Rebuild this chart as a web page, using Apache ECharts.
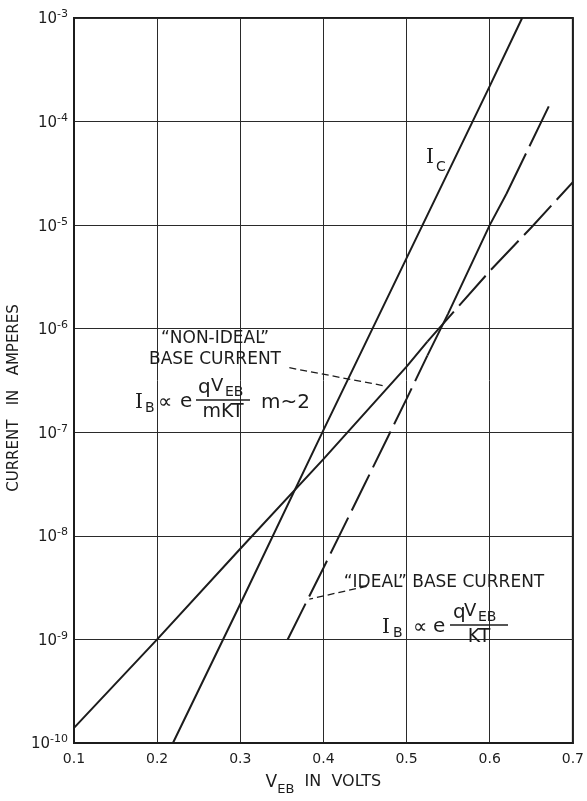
<!DOCTYPE html>
<html>
<head>
<meta charset="utf-8">
<script src="https://cdn.jsdelivr.net/npm/echarts@6/dist/echarts.min.js"></script>
<style>
  html, body { margin: 0; padding: 0; background: #fff; }
  #chart { width: 587px; height: 801px; }
</style>
</head>
<body>
<div id="chart"></div>
<script>
// Emitter-base voltage (V) against current (A)
const collectorVolts = [0.219, 0.30, 0.40, 0.50, 0.60, 0.639];
const collectorAmps  = [1e-10, 2.2e-9, 1.05e-7, 4.8e-6, 2.2e-4, 1e-3];

const nonIdealVolts = [0.10, 0.20, 0.30, 0.40, 0.50, 0.525, 0.60, 0.65, 0.70];
const nonIdealAmps  = [1.4e-10, 1.0e-9, 7.5e-9, 5.5e-8, 4.3e-7, 7.5e-7, 3.6e-6, 9.5e-6, 2.6e-5];

const idealVolts = [0.357, 0.40, 0.45, 0.50, 0.525, 0.55, 0.60, 0.62, 0.671];
const idealAmps  = [1.0e-9, 4.9e-9, 3.2e-8, 2.1e-7, 5.5e-7, 1.4e-6, 1.0e-5, 2.0e-5, 1.4e-4];

// where each drawn stroke switches between solid and dashed
const nonIdealDashFrom = 0.525;
const idealSolidFrom = 0.525;
const idealSolidTo = 0.62;

// leader arrows: [from volts, from amps, to volts, to amps]
const nonIdealLeader = [0.359, 4.2e-7, 0.474, 2.8e-7];
const idealLeader = [0.452, 3.26e-9, 0.383, 2.45e-9];

const voltMin = 0.1, voltMax = 0.7, voltStep = 0.1;
const ampMin = 1e-10, ampMax = 1e-3;

const INK = '#1c1c1c';
const FONT = '"DejaVu Sans", sans-serif';
const SERIF = '"DejaVu Serif", serif';

function segment(xs, ys, lo, hi) {
  const out = [];
  xs.forEach((x, i) => { if (x >= lo - 1e-9 && x <= hi + 1e-9) out.push([x, ys[i]]); });
  return out;
}

const solid = { color: INK, width: 2, type: 'solid' };
const dashed = { color: INK, width: 2, type: [40, 8] };
const dashedTop = { color: INK, width: 2, type: [45, 8] };

function curve(name, data, style, extra) {
  return Object.assign({
    name, type: 'line', data, symbol: 'none', showSymbol: false, silent: true,
    lineStyle: style, z: 3
  }, extra || {});
}

function leader(c) {
  return {
    silent: true, symbol: ['none', 'arrow'], symbolSize: [0, 9],
    lineStyle: { color: INK, width: 1.3, type: [7, 4] },
    label: { show: false },
    data: [[{ coord: [c[0], c[1]] }, { coord: [c[2], c[3]] }]]
  };
}

function txt(str, x, y, size, opts) {
  return {
    type: 'text', x, y, z: 10, silent: true,
    style: Object.assign({
      text: str, fill: INK, font: size + 'px ' + FONT,
      textAlign: 'left', textVerticalAlign: 'middle'
    }, opts || {})
  };
}

function bar(x1, x2, y) {
  return { type: 'line', z: 10, silent: true,
    shape: { x1, y1: y, x2, y2: y }, style: { stroke: INK, lineWidth: 1.5 } };
}

// I_B ∝ e^(qV_EB / denom); g holds the horizontal spacing of the pieces
function formula(x, y, denom, g) {
  const n = x + g.num;
  return [
    txt('I', x, y, 20, { font: '20px ' + SERIF }),
    txt('B', x + g.b, y + 5, 14),
    txt('\u221D', x + g.prop, y, 20),
    txt('e', x + g.e, y - 1, 20),
    txt('q', n, y - 15, 20),
    txt('V', n + g.v, y - 17, 18),
    txt('EB', n + g.v + 14, y - 11, 14),
    bar(x + g.bar[0], x + g.bar[1], y - 3),
    txt(denom, x + (g.bar[0] + g.bar[1]) / 2, y + 9, 19, { textAlign: 'center' })
  ];
}

const yTitle = txt('CURRENT   IN   AMPERES', 14, 398, 15, { textAlign: 'center' });
yTitle.rotation = Math.PI / 2;   // reads bottom-to-top

const graphics = [].concat(
  [ txt('I', 426, 158, 20, { font: '20px ' + SERIF }), txt('C', 436, 167, 14) ],
  [ txt('\u201CNON-IDEAL\u201D', 215, 339, 17, { textAlign: 'center' }),
    txt('BASE CURRENT', 215, 360, 17, { textAlign: 'center' }) ],
  formula(135, 403, 'mKT', { b: 10, prop: 23, e: 45, num: 63, v: 13, bar: [61, 115] }),
  [ txt('m~2', 261, 403, 20) ],
  [ txt('\u201CIDEAL\u201D BASE CURRENT', 444, 583, 17, { textAlign: 'center' }) ],
  formula(382, 628, 'KT', { b: 11, prop: 31, e: 51, num: 71, v: 11, bar: [68, 126] }),
  [ yTitle ]
);

const chart = echarts.init(document.getElementById('chart'), null, { renderer: 'canvas' });

chart.setOption({
  animation: false,
  backgroundColor: '#fff',
  grid: { left: 74, right: 13, top: 18, bottom: 47, show: true, borderColor: INK, borderWidth: 2 },
  xAxis: {
    type: 'value', min: voltMin, max: voltMax, interval: voltStep,
    name: '{v|V}{s|EB}{t|  IN  VOLTS}', nameLocation: 'middle', nameGap: 31,
    nameTextStyle: {
      rich: {
        v: { fontFamily: FONT, fontSize: 17, color: INK, lineHeight: 22, verticalAlign: 'top' },
        s: { fontFamily: FONT, fontSize: 13, color: INK, lineHeight: 22, verticalAlign: 'bottom' },
        t: { fontFamily: FONT, fontSize: 16, color: INK, lineHeight: 22, verticalAlign: 'top' }
      }
    },
    axisLine: { show: true, lineStyle: { color: INK, width: 2 } },
    axisTick: { show: false },
    axisLabel: { margin: 9, fontFamily: FONT, fontSize: 14, color: INK,
      formatter: v => v.toFixed(1) },
    splitLine: { show: true, lineStyle: { color: '#2a2a2a', width: 1 } }
  },
  yAxis: {
    type: 'log', logBase: 10, min: ampMin, max: ampMax,
    axisLine: { show: true, lineStyle: { color: INK, width: 2 } },
    axisTick: { show: false },
    axisLabel: {
      margin: 6, color: INK,
      formatter: v => {
        const e = Math.round(Math.log10(v));
        return '{b|10}{s|' + (e < 0 ? '-' : '') + Math.abs(e) + '}';
      },
      rich: {
        b: { fontFamily: FONT, fontSize: 15, color: INK, lineHeight: 18, verticalAlign: 'bottom' },
        s: { fontFamily: FONT, fontSize: 11, color: INK, lineHeight: 18, verticalAlign: 'top' }
      }
    },
    splitLine: { show: true, lineStyle: { color: '#2a2a2a', width: 1 } }
  },
  series: [
    curve('collector', collectorVolts.map((v, i) => [v, collectorAmps[i]]), solid),
    curve('nonIdealLow', segment(nonIdealVolts, nonIdealAmps, voltMin, nonIdealDashFrom), solid,
      { markLine: leader(nonIdealLeader) }),
    curve('nonIdealHigh', segment(nonIdealVolts, nonIdealAmps, nonIdealDashFrom, voltMax), dashed),
    curve('idealLow', segment(idealVolts, idealAmps, 0, idealSolidFrom), dashed,
      { markLine: leader(idealLeader) }),
    curve('idealMid', segment(idealVolts, idealAmps, idealSolidFrom, idealSolidTo), solid),
    curve('idealHigh', segment(idealVolts, idealAmps, idealSolidTo, voltMax), dashedTop)
  ],
  graphic: graphics
});
</script>
</body>
</html>
